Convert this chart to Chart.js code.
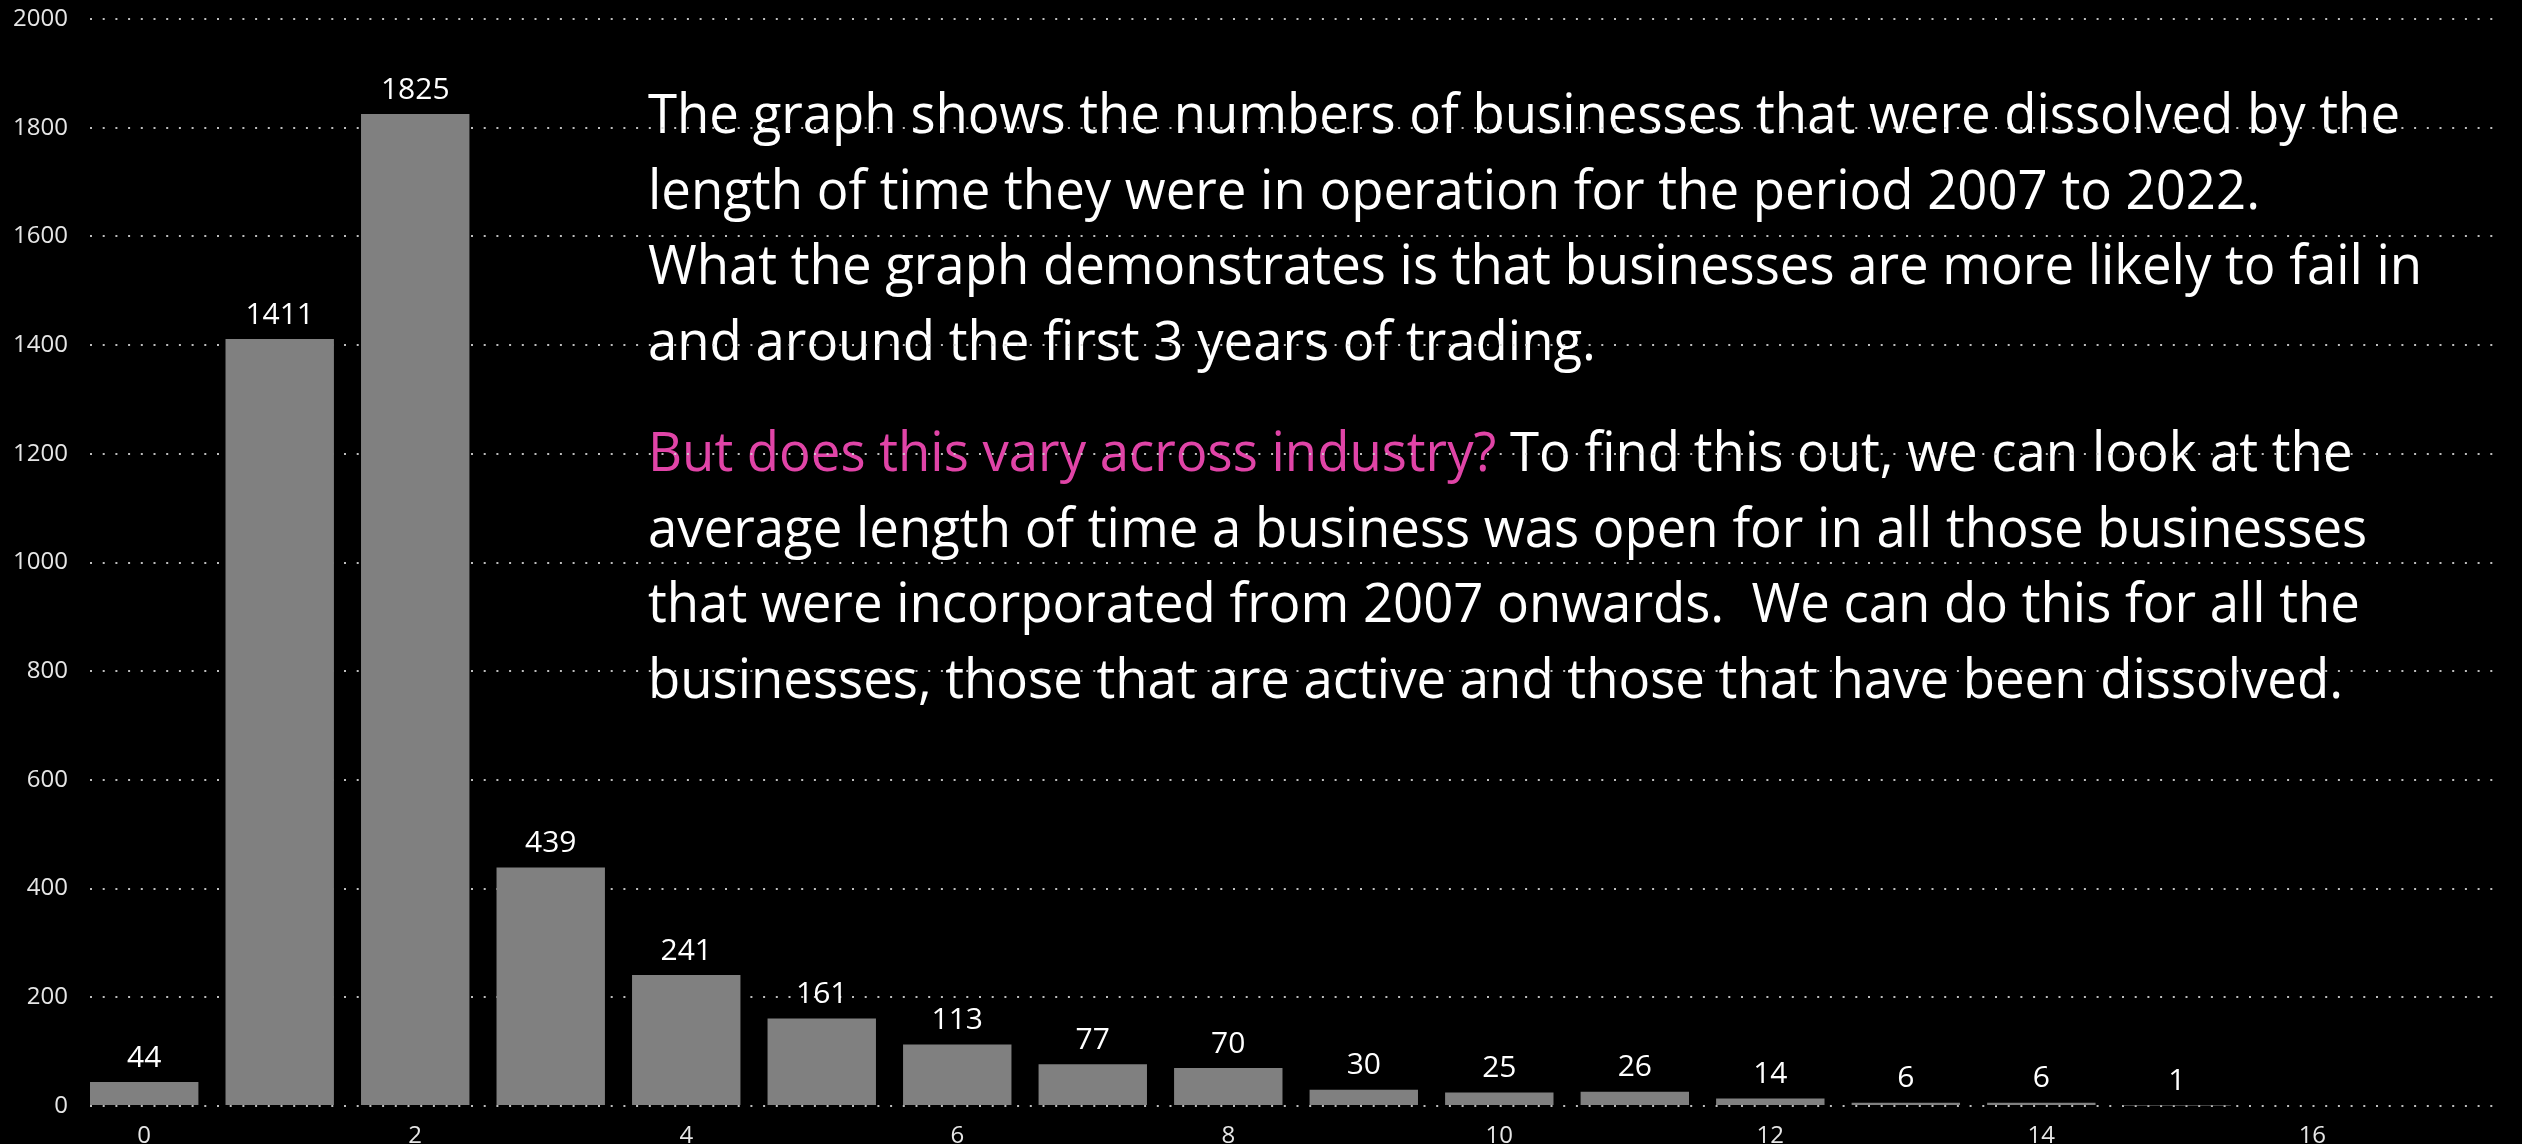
<!DOCTYPE html>
<html>
<head>
<meta charset="utf-8">
<script src="https://cdn.jsdelivr.net/npm/chart.js@4/dist/chart.umd.min.js"></script>
<style>
    html, body { margin: 0; padding: 0; background: #000; }
    #dissolvedChart { display: block; }
</style>
</head>
<body>
<canvas id="dissolvedChart" width="2522" height="1144"></canvas>
<script>
// Years in operation before dissolution, and how many businesses
var yearsOpen = [0, 1, 2, 3, 4, 5, 6, 7, 8, 9, 10, 11, 12, 13, 14, 15];
var dissolvedCounts = [44, 1411, 1825, 439, 241, 161, 113, 77, 70, 30, 25, 26, 14, 6, 6, 1];
var xTickValues = [0, 2, 4, 6, 8, 10, 12, 14, 16];
var yTickValues = [0, 200, 400, 600, 800, 1000, 1200, 1400, 1600, 1800, 2000];

// Commentary text, one entry per line
var introLines = [
    'The graph shows the numbers of businesses that were dissolved by the',
    'length of time they were in operation for the period 2007 to 2022.',
    'What the graph demonstrates is that businesses are more likely to fail in',
    'and around the first 3 years of trading.'
];
var questionText = 'But does this vary across industry?';
var followLines = [
    ' To find this out, we can look at the',
    'average length of time a business was open for in all those businesses',
    'that were incorporated from 2007 onwards.  We can do this for all the',
    'businesses, those that are active and those that have been dissolved.'
];

var TEXT_FONT = '"Open Sans", "Noto Sans", sans-serif';
var PINK = '#E044A7';

/**
 * Draws the commentary behind the grid so the dotted lines run over it.
 */
var commentaryPlugin = {
    id: 'commentary',
    beforeDraw: function(chart) {
        var ctx = chart.ctx;
        ctx.save();
        ctx.fillStyle = '#000';
        ctx.fillRect(0, 0, chart.width, chart.height);

        ctx.font = '54px ' + TEXT_FONT;
        ctx.textBaseline = 'alphabetic';
        ctx.textAlign = 'left';
        // squeeze horizontally so the first line spans the same width as the original
        var sx = 1752 / ctx.measureText(introLines[0]).width;
        var left = 648;
        var lineGap = 75.6;

        ctx.scale(sx, 1);
        ctx.fillStyle = '#fff';
        introLines.forEach(function(line, i) {
            ctx.fillText(line, left / sx, 133 + i * lineGap);
        });

        var top2 = 471;
        ctx.fillStyle = PINK;
        ctx.fillText(questionText, left / sx, top2);
        var qWidth = ctx.measureText(questionText).width;
        ctx.fillStyle = '#fff';
        followLines.forEach(function(line, i) {
            var x = i === 0 ? left / sx + qWidth : left / sx;
            ctx.fillText(line, x, top2 + i * lineGap);
        });
        ctx.restore();
    }
};

/**
 * Value labels above each bar.
 */
var barLabelPlugin = {
    id: 'barLabels',
    afterDatasetsDraw: function(chart) {
        var ctx = chart.ctx;
        var meta = chart.getDatasetMeta(0);
        ctx.save();
        ctx.font = '30px ' + TEXT_FONT;
        ctx.fillStyle = '#fff';
        ctx.textAlign = 'center';
        ctx.textBaseline = 'bottom';
        meta.data.forEach(function(bar, i) {
            ctx.fillText(String(dissolvedCounts[i]), bar.x, bar.y - 9);
        });
        ctx.restore();
    }
};

var ctx = document.getElementById('dissolvedChart').getContext('2d');
new Chart(ctx, {
    type: 'bar',
    data: {
        datasets: [{
            label: 'Dissolved businesses',
            data: yearsOpen.map(function(x, i) {
                return { x: x, y: dissolvedCounts[i] };
            }),
            backgroundColor: '#808080',
            borderWidth: 0,
            barPercentage: 0.8,
            categoryPercentage: 1
        }]
    },
    options: {
        responsive: false,
        animation: false,
        layout: {
            padding: { top: 19, right: 24, left: 0, bottom: 0 }
        },
        plugins: {
            legend: { display: false },
            tooltip: { enabled: false }
        },
        scales: {
            x: {
                type: 'linear',
                min: -0.4,
                max: 17.37,
                offset: false,
                grid: { display: false },
                border: { display: false },
                afterBuildTicks: function(scale) {
                    scale.ticks = xTickValues.map(function(v) { return { value: v }; });
                },
                afterFit: function(scale) {
                    scale.height = 38;
                    scale.paddingLeft = 0;
                    scale.paddingRight = 0;
                },
                ticks: {
                    color: '#e6e6e6',
                    padding: 8,
                    maxRotation: 0,
                    autoSkip: false,
                    font: { family: TEXT_FONT, size: 24 },
                    callback: function(value) { return String(value); }
                }
            },
            y: {
                min: 0,
                max: 2000,
                afterBuildTicks: function(scale) {
                    scale.ticks = yTickValues.map(function(v) { return { value: v }; });
                },
                afterFit: function(scale) {
                    scale.width = 90;
                    scale.paddingTop = 0;
                    scale.paddingBottom = 0;
                },
                grid: {
                    color: 'rgba(210, 210, 210, 0.9)',
                    lineWidth: 2,
                    drawTicks: false
                },
                border: { display: false, dash: [2, 10.7] },
                ticks: {
                    color: '#e6e6e6',
                    padding: 22,
                    font: { family: TEXT_FONT, size: 24 },
                    callback: function(value) { return String(value); }
                }
            }
        }
    },
    plugins: [commentaryPlugin, barLabelPlugin]
});
</script>
</body>
</html>
